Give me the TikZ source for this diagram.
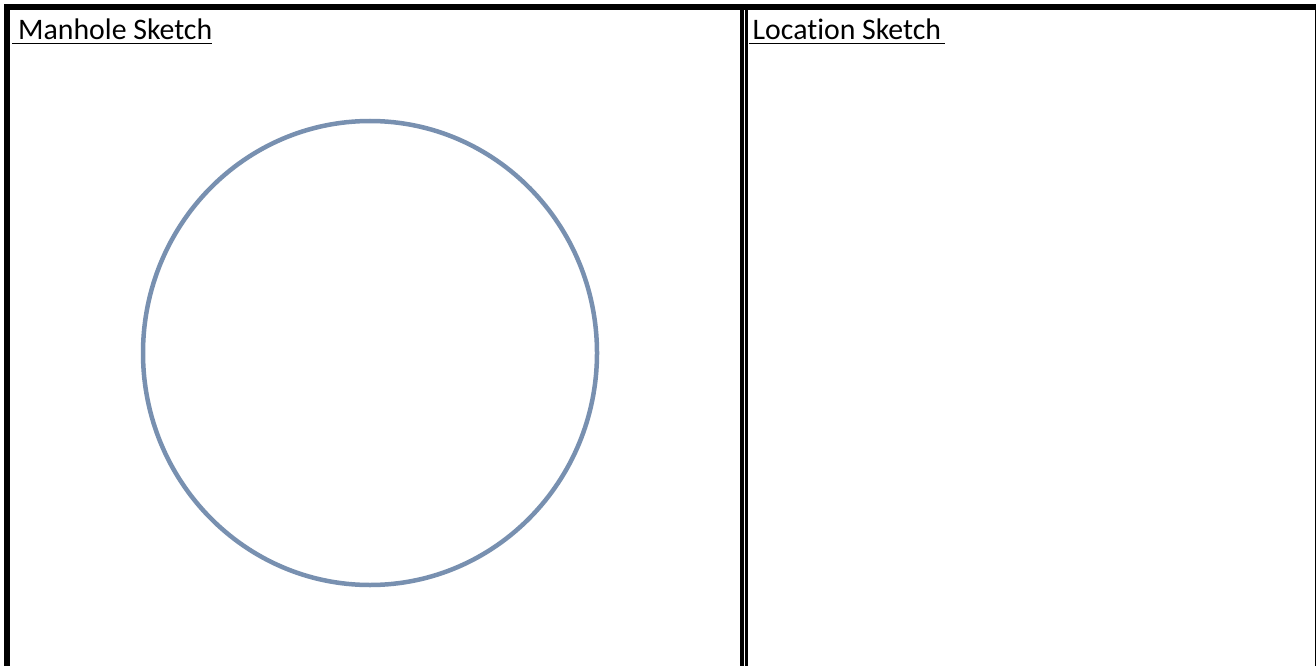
\documentclass[tikz,border=0pt]{standalone}
\usepackage{fontspec}
\setmainfont{Carlito}[Ligatures=NoCommon]
\definecolor{rimblue}{HTML}{7890B0}
\begin{document}
\begin{tikzpicture}[x=1pt,y=-1pt,
  rule/.style={fill=black,draw=none},
  title/.style={anchor=base west,inner sep=0pt,font=\fontsize{29.8}{34}\selectfont,text=black},
  uline/.style={line width=1.7pt,black},
  rim/.style={draw=rimblue,line width=4.5pt}]
\useasboundingbox (0,0) rectangle (1316,666);
\fill[white] (0,0) rectangle (1316,666);
% borders
\path[rule] (4,4) rectangle (1316,10);
\path[rule] (4,4) rectangle (10,666);
\path[rule] (740,10) rectangle (743.5,666);
\path[rule] (745,10) rectangle (748,666);
\path[rule] (1314.5,10) rectangle (1316,666);
% titles
\node[title] (mh) at (18,39.5) {Manhole Sketch};
\node[title] (loc) at (752.5,39.5) {Location Sketch};
\draw[uline] (12,43.5) -- (212,43.5);
\draw[uline] (749,43.5) -- (945,43.5);
% manhole
\draw[rim] (370,353) ellipse [x radius=227, y radius=232];
\end{tikzpicture}
\end{document}
